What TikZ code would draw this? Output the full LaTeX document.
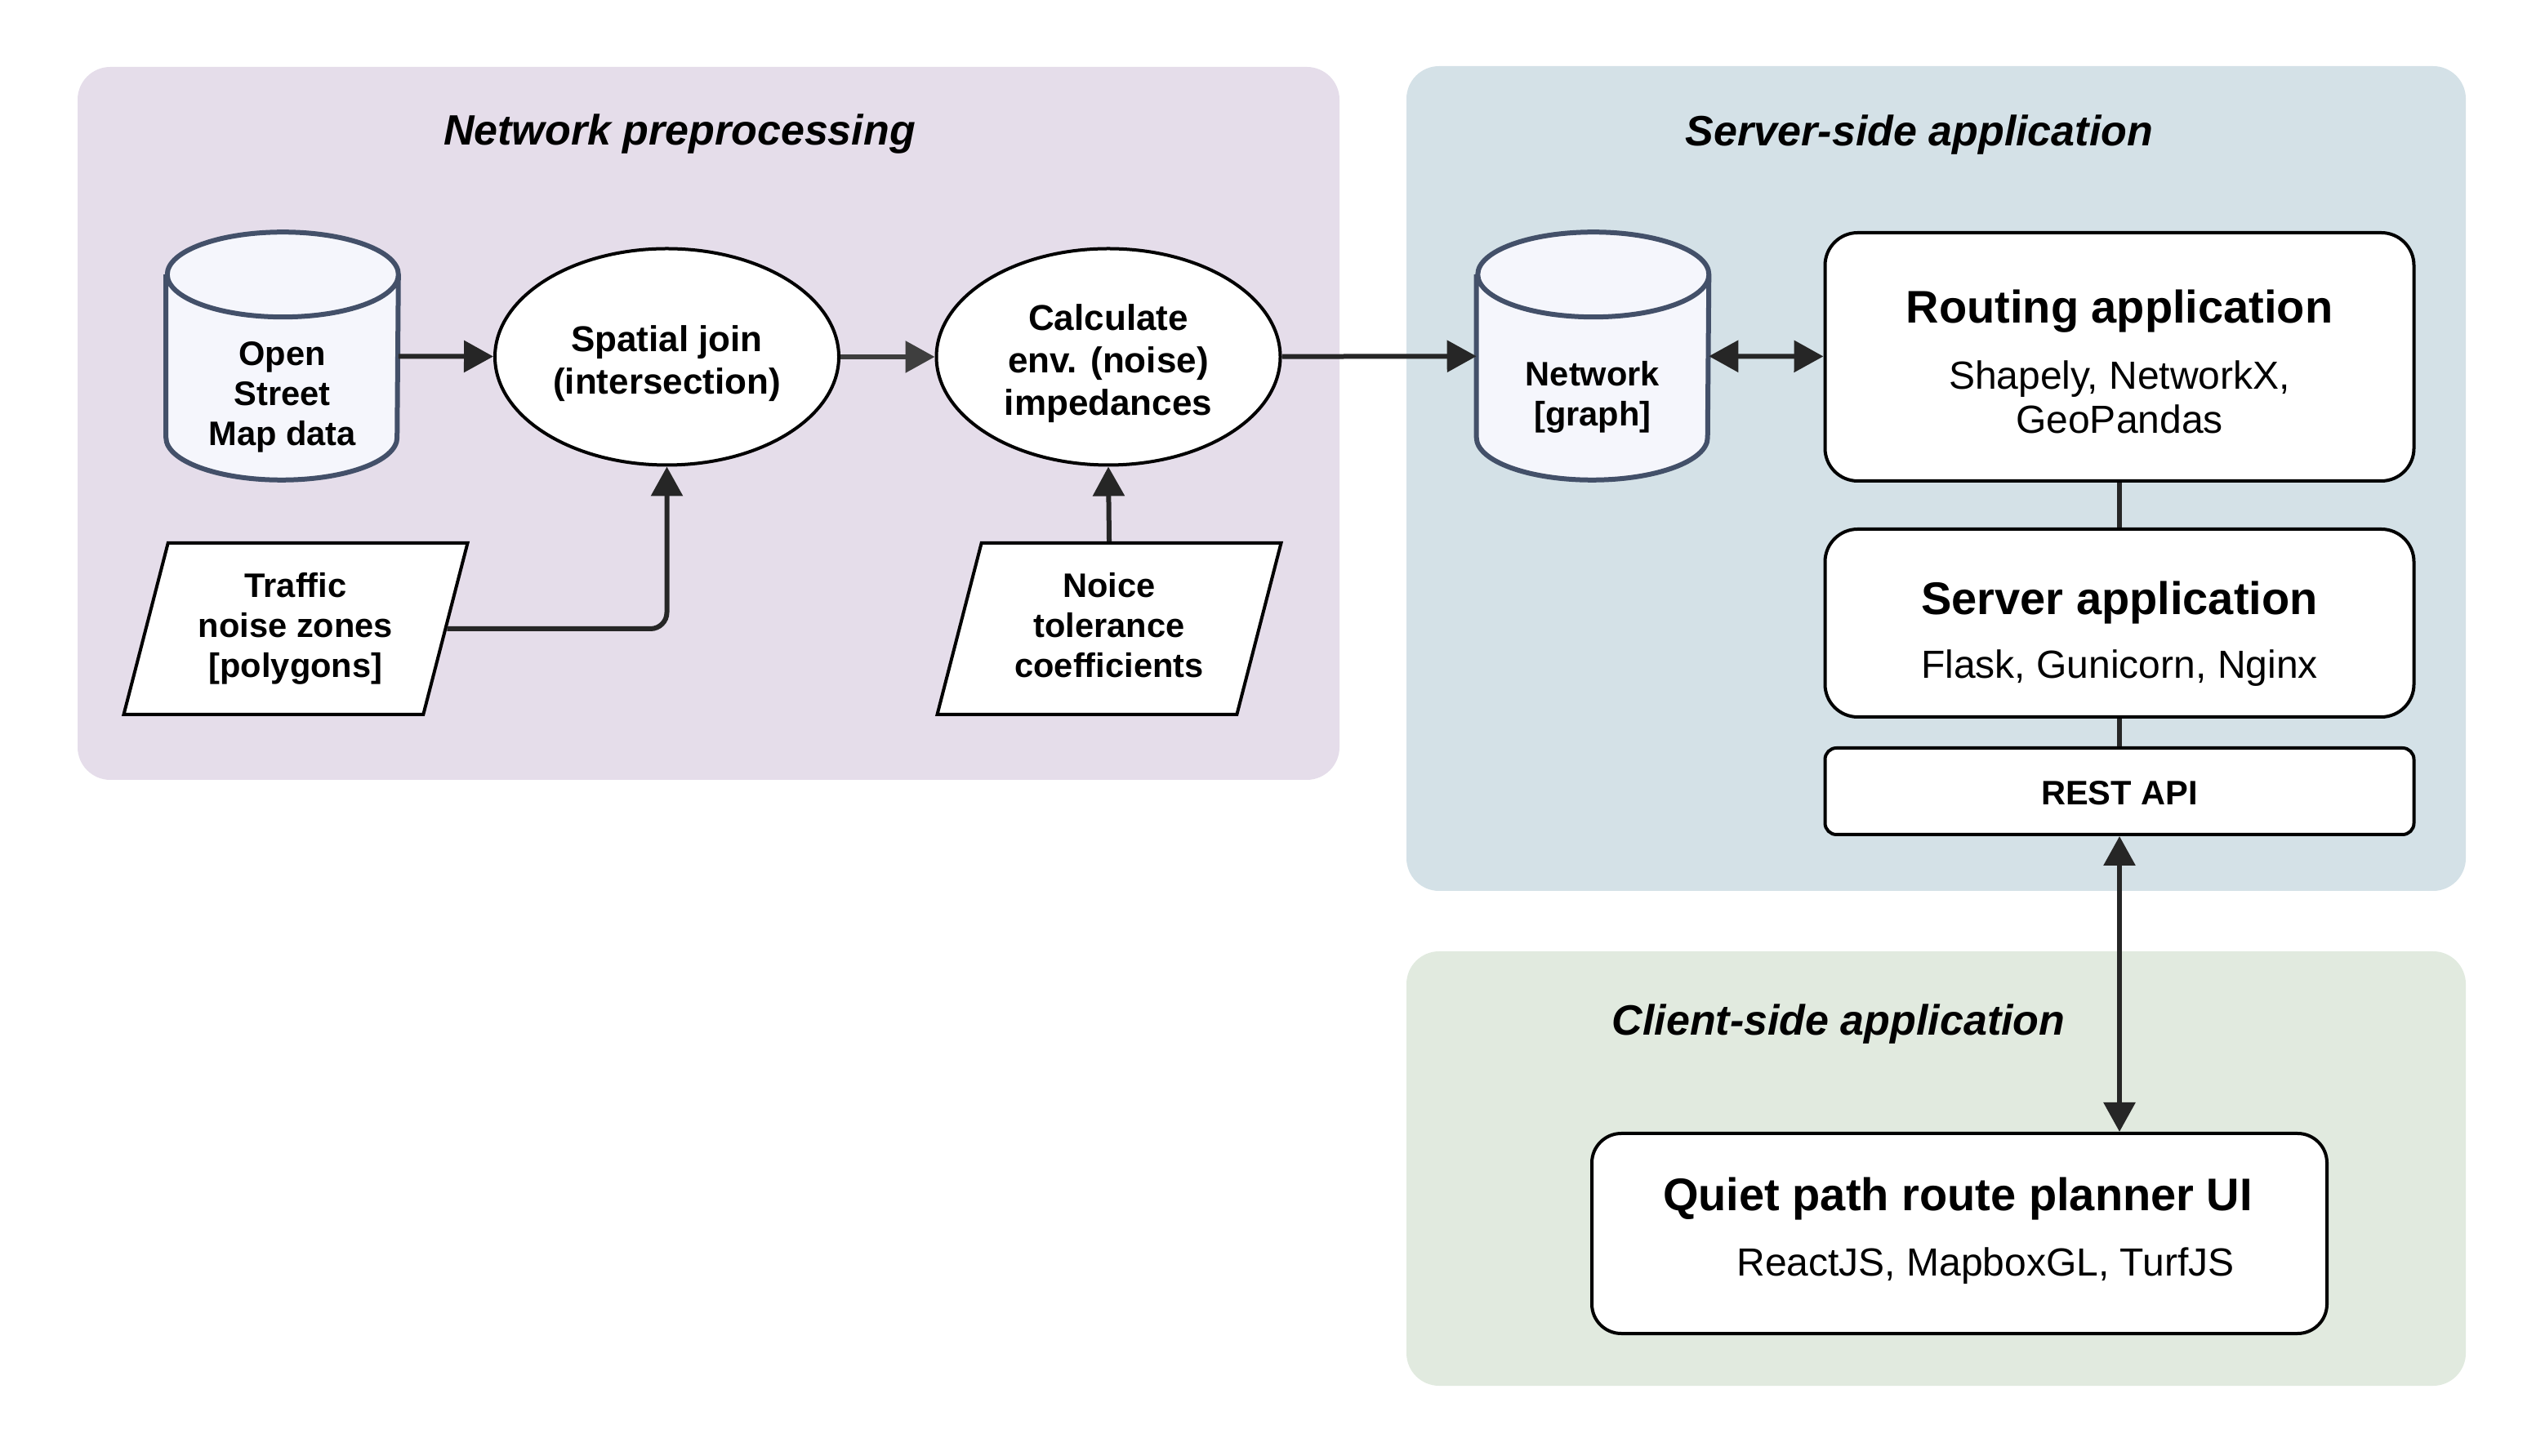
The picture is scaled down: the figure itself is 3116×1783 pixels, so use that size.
\documentclass[tikz,border=0pt]{standalone}
\usepackage{fontspec}
\setmainfont{Liberation Sans}
\usetikzlibrary{shapes.geometric,arrows.meta}
\definecolor{prepbg}{HTML}{E5DDEA}
\definecolor{serverbg}{HTML}{D4E1E7}
\definecolor{clientbg}{HTML}{E1EADF}
\definecolor{dbline}{HTML}{435069}
\definecolor{dbfill}{HTML}{F5F6FC}
\definecolor{flowdark}{HTML}{262626}
\definecolor{flowlight}{HTML}{3E3E3E}

\tikzset{
  PanelStyle/.style = {rounded corners = 10pt},
  BaseStyle/.style = {minimum width = 70.75pt, minimum height = 75.5pt, inner sep = 0pt},
  BaseLine/.style = {draw = dbline, fill = dbfill, line width = 1.5pt},
  BaseText/.style = {font = \fontsize{10.4}{12.25}\selectfont\bfseries, align = center},
  ProcStyle/.style = {ellipse, draw, fill = white, line width = 1pt,
    minimum width = 105.25pt, minimum height = 66.25pt, inner sep = 0pt},
  ProcText/.style = {align = center, font = \fontsize{11}{13}\selectfont\bfseries},
  InputStyle/.style = {trapezium, trapezium left angle = 68.4, trapezium right angle = 111.6,
    trapezium stretches body, draw, fill = white, line width = 1pt,
    minimum width = 105.25pt, minimum height = 52.5pt, inner sep = 0pt,
    align = center, font = \fontsize{10.4}{12.25}\selectfont\bfseries},
  AppStyle/.style = {draw, fill = white, line width = 1pt, rounded corners = 10pt, inner sep = 0pt},
  PanelTitle/.style = {font = \fontsize{13}{15}\selectfont\bfseries\itshape, anchor = base},
  AppTitle/.style = {font = \fontsize{14}{16}\selectfont\bfseries, anchor = base},
  AppText/.style = {font = \fontsize{12}{14}\selectfont, anchor = base},
  Flow/.style = {draw = flowdark, line width = 1.5pt, -{Triangle[length = 9pt, width = 9.5pt]}},
  BothFlow/.style = {draw = flowdark, line width = 1.5pt,
    {Triangle[length = 9pt, width = 9.5pt]}-{Triangle[length = 9pt, width = 9.5pt]}},
  Link/.style = {draw = flowdark, line width = 1.5pt}
}

\newcommand\DrawBase[1]{%
  \draw[BaseLine] ([yshift=-13pt]#1.north west) -- ([yshift=13pt]#1.south west)
    arc[start angle=180, end angle=360, x radius=35.375pt, y radius=13pt]
    -- ([yshift=-13pt]#1.north east)
    arc[start angle=0, end angle=180, x radius=35.375pt, y radius=13pt]
    arc[start angle=180, end angle=360, x radius=35.375pt, y radius=13pt];}

\begin{document}
\begin{tikzpicture}[x=0.25pt, y=-0.25pt]
  \useasboundingbox (0,0) rectangle (3116,1783);
  \fill[PanelStyle, prepbg] (95,82) rectangle (1640,955);
  \fill[PanelStyle, serverbg] (1722,81) rectangle (3019,1091);
  \fill[PanelStyle, clientbg] (1722,1165) rectangle (3019,1697);
  \node[PanelTitle] (preptitle) at (832,178) {Network preprocessing};
  \node[PanelTitle] (servertitle) at (2350,179) {Server-side application};
  \node[PanelTitle] (clienttitle) at (2251,1268) {Client-side application};

  \node[BaseStyle] (osm) at (345.5,436) {};
  \DrawBase{osm}
  \node[BaseText] (osmtext) at ([yshift=-12.5pt]osm.center) {Open\\Street\\Map data};
  \node[BaseStyle] (network) at (1950,436) {};
  \DrawBase{network}
  \node[BaseText] (networktext) at ([yshift=-12.5pt]network.center) {Network\\{[graph]}};

  \node[ProcStyle] (spatial) at (816.5,437) {};
  \node[ProcText] (spatialtext) at ([yshift=-2pt]spatial.center) {Spatial join\\(intersection)};
  \node[ProcStyle] (calc) at (1357,437) {};
  \node[ProcText] (calctext) at ([yshift=-2pt]calc.center) {Calculate\\env. (noise)\\impedances};
  \node[InputStyle] (traffic) at (362,770) {Traffic\\noise zones\\{[polygons]}};
  \node[InputStyle] (noice) at (1358,770) {Noice\\tolerance\\coefficients\vphantom{[y]}};

  \node[AppStyle, minimum width = 180.25pt, minimum height = 76pt] (routing) at (2595,437) {};
  \node[AppStyle, minimum width = 180.25pt, minimum height = 57.5pt] (server) at (2595,763) {};
  \node[AppStyle, rounded corners = 3.5pt, minimum width = 180.25pt, minimum height = 26.5pt] (rest) at (2595,969) {};
  \node[AppStyle, rounded corners = 9pt, minimum width = 225pt, minimum height = 61.25pt] (quiet) at (2399,1510.5) {};
  \node[AppTitle] (routingtitle) at (2595,396) {Routing application};
  \node[AppText] (routingtext) at (2595,477) {Shapely, NetworkX,};
  \node[AppText] (routingtext2) at (2595,531) {GeoPandas};
  \node[AppTitle] (servertitle) at (2595,753) {Server application};
  \node[AppText] (servertext) at (2595,831) {Flask, Gunicorn, Nginx};
  \node[anchor = base, font = \fontsize{10.4}{12}\selectfont\bfseries] (resttext) at (2595,986) {REST API};
  \node[AppTitle] (quiettitle) at (2397,1482) {Quiet path route planner UI};
  \node[AppText] (quiettext) at (2431,1563) {ReactJS, MapboxGL, TurfJS};

  \draw[Flow] (osm) -- (spatial);
  \draw[Flow, draw = flowlight] (spatial) -- (calc);
  \draw[Flow] (calc) -- (network);
  \draw[Flow, rounded corners = 5pt] (traffic.east) -| (spatial.south);
  \draw[Flow] (noice.north) -- (calc.south);
  \draw[BothFlow] (network) -- (routing);
  \draw[Link] (routing) -- (server);
  \draw[Link] (server) -- (rest);
  \draw[BothFlow] (rest.south) -- (rest.south |- quiet.north);
\end{tikzpicture}
\end{document}
